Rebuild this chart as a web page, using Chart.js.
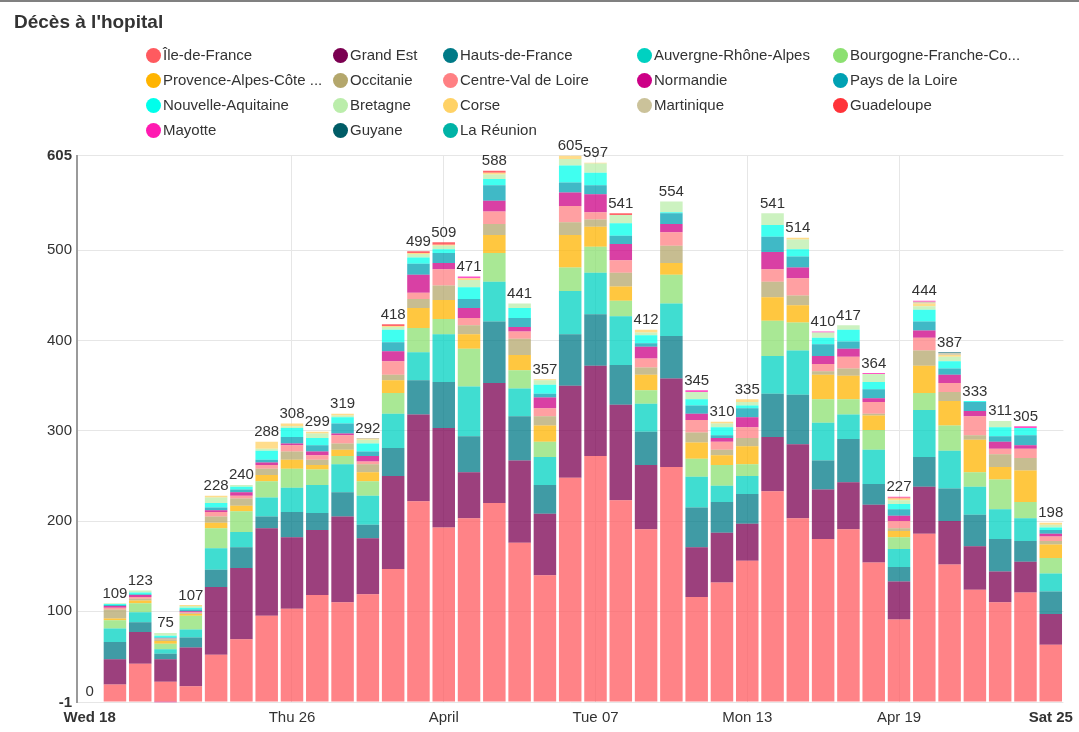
<!DOCTYPE html>
<html><head><meta charset="utf-8">
<script src="https://cdn.jsdelivr.net/npm/chart.js@4"></script>
<style>
body{margin:0;background:#fff;font-family:"Liberation Sans",Arial,sans-serif;}
#wrap{position:relative;width:1079px;height:732px;overflow:hidden;background:#fff;}
#topline{position:absolute;left:0;top:0;width:1079px;height:2px;background:#808080;}
#title{position:absolute;left:14px;top:12px;font-size:19px;line-height:19px;font-weight:bold;color:#333;white-space:nowrap;}
.li{position:absolute;height:16px;display:flex;align-items:center;font-size:15px;line-height:16px;color:#333;white-space:nowrap;}
.li .dot{width:15px;height:15px;border-radius:50%;margin-right:2px;flex:none;}
canvas{position:absolute;left:0;top:0;}
</style></head><body>
<div id="wrap"><canvas id="c" width="1079" height="732"></canvas><div id="topline"></div><div id="title">Décès à l'hopital</div><div id="legend"></div></div>
<script>
const categories = ['2020-03-18','2020-03-19','2020-03-20','2020-03-21','2020-03-22','2020-03-23','2020-03-24','2020-03-25','2020-03-26','2020-03-27','2020-03-28','2020-03-29','2020-03-30','2020-03-31','2020-04-01','2020-04-02','2020-04-03','2020-04-04','2020-04-05','2020-04-06','2020-04-07','2020-04-08','2020-04-09','2020-04-10','2020-04-11','2020-04-12','2020-04-13','2020-04-14','2020-04-15','2020-04-16','2020-04-17','2020-04-18','2020-04-19','2020-04-20','2020-04-21','2020-04-22','2020-04-23','2020-04-24','2020-04-25'];
const tickIndex = [0,8,14,20,26,32,38];
const tickText = ['Wed 18','Thu 26','April','Tue 07','Mon 13','Apr 19','Sat 25'];
const yTicks = [-1,100,200,300,400,500,605];

const regions = ['Île-de-France','Grand Est','Hauts-de-France','Auvergne-Rhône-Alpes','Bourgogne-Franche-Co...','Provence-Alpes-Côte ...','Occitanie','Centre-Val de Loire','Normandie','Pays de la Loire','Nouvelle-Aquitaine','Bretagne','Corse','Martinique','Guadeloupe','Mayotte','Guyane','La Réunion'];
const colors = ['#ff5a5f','#7b0051','#007a87','#00d1c1','#8ce071','#ffb400','#b4a76c','#ff8083','#cc0086','#00a1b3','#00ffeb','#bbedab','#ffd266','#cbc29a','#ff3339','#ff1ab1','#005c66','#00b3a6'];

const idf   = [0,19,42,22,17,52,69,95,103,118,110,119,147,222,193,203,220,176,140,248,272,223,191,260,116,132,156,233,203,180,191,154,91,186,152,124,110,121,63];
const ge    = [0,28,35,25,43,75,79,97,79,72,95,62,103,96,110,51,133,91,68,102,100,106,71,98,55,55,41,60,82,55,52,64,42,52,48,48,34,34,34];
const hdf   = [0,19,11,6,11,19,23,13,28,19,27,15,31,38,51,40,68,49,32,57,57,44,37,47,44,34,33,48,55,32,48,23,16,33,36,35,36,23,25];
const ara   = [0,15,11,5,9,24,17,21,27,31,31,32,38,31,53,55,44,31,31,48,46,54,31,36,34,18,20,42,49,42,27,38,20,52,42,31,33,25,20];
const bfc   = [0,9,10,6,15,22,23,18,21,17,9,16,23,27,17,42,32,20,17,26,29,17,15,32,20,23,13,39,31,26,17,22,13,19,28,16,33,18,17];
const paca  = [0,2,3,3,2,6,6,7,10,5,7,10,14,22,21,16,20,17,18,36,22,16,17,13,18,11,20,26,19,27,26,16,7,30,27,36,14,35,15];
const occ   = [0,10,2,2,1,7,8,7,9,6,7,9,6,10,16,10,12,18,10,14,8,15,8,19,11,6,9,17,11,4,8,2,3,17,10,5,14,14,4];
const cvl   = [0,2,2,1,1,5,3,4,7,5,9,3,15,7,18,8,14,8,9,18,8,14,10,15,14,9,12,14,19,8,13,13,8,14,10,21,6,10,5];
const nor   = [0,2,2,-1,1,2,4,3,2,4,2,6,11,20,7,11,12,5,12,15,20,18,13,9,7,4,11,19,12,9,9,4,6,8,9,6,8,4,3];
const pdl   = [0,1,1,1,2,3,3,3,7,7,11,5,10,12,11,10,17,10,4,11,10,9,4,12,9,3,10,17,12,13,8,10,7,10,7,10,6,11,4];
const na    = [0,1,2,2,2,5,3,10,10,8,7,9,14,7,4,13,7,11,10,19,14,14,9,1,7,9,3,13,8,7,13,8,6,13,8,1,10,8,3];
const bre   = [0,1,2,3,2,6,2,2,2,5,2,4,3,4,4,8,5,5,5,7,10,9,3,12,8,4,4,13,11,6,5,9,4,4,5,0,7,0,3];
const corse = [0,0,0,0,1,2,0,8,3,2,2,1,1,1,1,2,2,0,1,4,1,0,3,0,0,2,3,0,2,0,0,0,2,3,2,0,0,0,2];
const mart  = [0,0,0,0,0,0,0,0,0,0,0,1,0,0,0,0,0,0,0,0,0,0,0,0,0,0,0,0,0,0,0,0,0,2,2,0,0,0,0];
const guad  = [0,0,0,0,0,0,0,0,0,0,0,0,2,2,3,0,2,0,0,0,0,2,0,0,0,0,0,0,0,0,0,0,1,0,0,0,0,0,0];
const mayo  = [0,0,0,0,0,0,0,0,0,0,0,0,0,0,0,2,0,0,0,0,0,0,0,0,2,0,0,0,0,1,0,1,1,1,0,0,0,2,0];
const guy   = [0,0,0,0,0,0,0,0,0,0,0,0,0,0,0,0,0,0,0,0,0,0,0,0,0,0,0,0,0,0,0,0,0,0,1,0,0,0,0];
const reu   = [0,0,0,0,0,0,0,0,0,0,0,0,0,0,0,0,0,0,0,0,0,0,0,0,0,0,0,0,0,0,0,0,0,0,0,0,0,0,0];

const values = [idf,ge,hdf,ara,bfc,paca,occ,cvl,nor,pdl,na,bre,corse,mart,guad,mayo,guy,reu];

function rgba(hex,a){const n=parseInt(hex.slice(1),16);return 'rgba('+(n>>16&255)+','+(n>>8&255)+','+(n&255)+','+a+')';}

// HTML legend
const colLeft=[146,333,443,637,833], rowCenter=[55,80,105,130];
const lg=document.getElementById('legend');
regions.forEach((r,k)=>{const d=document.createElement('div');d.className='li';
  d.style.left=colLeft[k%5]+'px';d.style.top=(rowCenter[Math.floor(k/5)]-8)+'px';
  d.innerHTML='<span class="dot" style="background:'+colors[k]+'"></span>'+r;lg.appendChild(d);});

const fontFam='"Liberation Sans", Arial, sans-serif';
Chart.defaults.font.family=fontFam;
Chart.defaults.font.size=15;
Chart.defaults.color='#333';

const gridIdx=tickIndex.slice(1,-1);

const totalsPlugin={id:'totals',afterDatasetsDraw(chart){
  const ctx=chart.ctx,xs=chart.scales.x,ys=chart.scales.y;
  ctx.save();ctx.font='15px '+fontFam;ctx.fillStyle='#333';ctx.textAlign='center';ctx.textBaseline='alphabetic';
  categories.forEach((c,i)=>{let tot=0,pos=0;values.forEach(a=>{tot+=a[i];if(a[i]>0)pos+=a[i];});
    ctx.fillText(String(tot),xs.getPixelForValue(i),ys.getPixelForValue(pos)-5.5);});
  ctx.restore();}};

new Chart(document.getElementById('c'),{
  type:'bar',
  data:{labels:categories,datasets:regions.map((r,k)=>({label:r,data:values[k],backgroundColor:rgba(colors[k],0.75),borderWidth:0,barPercentage:0.89,categoryPercentage:1}))},
  options:{responsive:false,animation:false,devicePixelRatio:1,
    layout:{padding:{top:155.5,left:0,right:11,bottom:0}},
    plugins:{legend:{display:false},title:{display:false},tooltip:{enabled:false}},
    scales:{
      x:{stacked:true,offset:true,afterFit(s){s.height=29.5;},border:{display:false},
        grid:{offset:false,drawTicks:false,color:c=>gridIdx.includes(c.index)?'#e6e6e6':'rgba(0,0,0,0)'},
        ticks:{autoSkip:false,maxRotation:0,minRotation:0,padding:6,color:'#333',
          callback:(v,i)=>{const k=tickIndex.indexOf(i);return k>=0?tickText[k]:'';},
          font:c=>({size:15,weight:(c.index===tickIndex[0]||c.index===tickIndex[tickIndex.length-1])?'bold':'normal'})}},
      y:{stacked:true,min:-1,max:605,afterBuildTicks(s){s.ticks=yTicks.map(v=>({value:v}));},afterFit(s){s.width=77;},
        border:{display:true,color:'#9a9a9a',width:2},
        grid:{color:'#e6e6e6',drawTicks:false},
        ticks:{padding:5,color:'#333',callback:v=>String(v),
          font:c=>({size:15,weight:(c.tick&&(c.tick.value===yTicks[0]||c.tick.value===yTicks[yTicks.length-1]))?'bold':'normal'})}}
    }},
  plugins:[totalsPlugin]
});
</script>
</body></html>
